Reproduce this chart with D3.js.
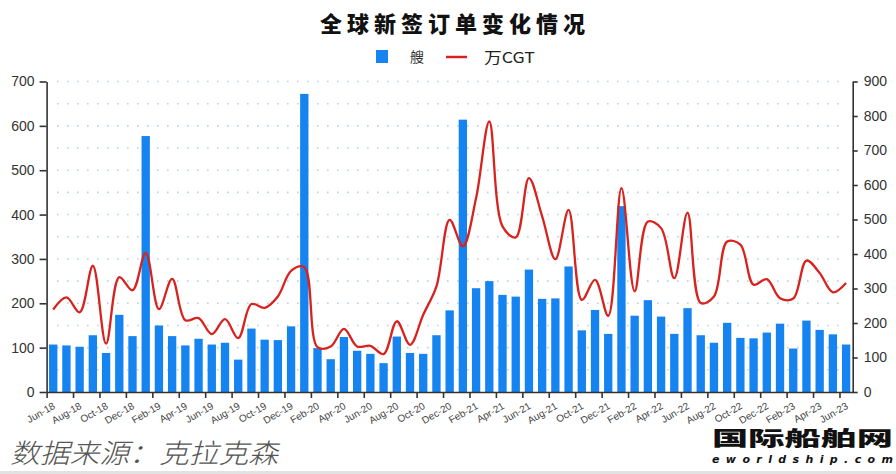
<!DOCTYPE html>
<html><head><meta charset="utf-8">
<script src="https://cdn.jsdelivr.net/npm/d3@7/dist/d3.min.js"></script>
<style>
html,body{margin:0;padding:0;background:#fff;}
svg{display:block;}
</style></head>
<body>
<svg id="chart" width="896" height="474"></svg>
<script>
const months = ["Jun-18","Jul-18","Aug-18","Sep-18","Oct-18","Nov-18","Dec-18","Jan-19","Feb-19","Mar-19","Apr-19","May-19","Jun-19","Jul-19","Aug-19","Sep-19","Oct-19","Nov-19","Dec-19","Jan-20","Feb-20","Mar-20","Apr-20","May-20","Jun-20","Jul-20","Aug-20","Sep-20","Oct-20","Nov-20","Dec-20","Jan-21","Feb-21","Mar-21","Apr-21","May-21","Jun-21","Jul-21","Aug-21","Sep-21","Oct-21","Nov-21","Dec-21","Jan-22","Feb-22","Mar-22","Apr-22","May-22","Jun-22","Jul-22","Aug-22","Sep-22","Oct-22","Nov-22","Dec-22","Jan-23","Feb-23","Mar-23","Apr-23","May-23","Jun-23"];
const ships = [107,105,102,128,88,174,126,577,150,126,105,120,107,111,73,143,118,117,148,672,99,74,124,93,86,65,125,88,86,128,184,614,234,250,219,215,276,210,211,283,139,185,131,419,172,207,170,131,189,128,111,156,122,121,134,154,98,161,140,130,107];
const cgt = [239,274,231,366,140,333,295,403,240,328,208,214,168,211,156,255,244,277,351,362,130,132,183,132,134,110,205,137,224,306,499,422,562,784,480,448,620,509,385,528,267,325,221,591,292,494,475,330,520,258,277,436,427,311,327,272,271,381,345,289,316];
const leftTicks = [0,100,200,300,400,500,600,700];
const rightTicks = [0,100,200,300,400,500,600,700,800,900];
const gridValues = d3.range(50, 701, 50);
const xTickIdx = d3.range(0, 61, 2);
const title = "全球新签订单变化情况";
const legendShip = "艘";
const legendCGT = "万CGT";
const source = "数据来源：克拉克森";

const svg = d3.select("#chart");
const L = 46.6, R = 852.7, T = 81.5, B = 392;

const x = d3.scaleBand().domain(months).range([L, R]).paddingInner(0.37).paddingOuter(0.185);
const xi = d3.scaleLinear().domain([0, months.length]).range([L, R]);
const yL = d3.scaleLinear().domain([0, 700]).range([B, T]);
const yR = d3.scaleLinear().domain([0, 900]).range([B, T]);

// grid
svg.append("g").selectAll("line").data(gridValues).join("line")
  .attr("x1", 57).attr("x2", 845)
  .attr("y1", d => yL(d)).attr("y2", d => yL(d))
  .attr("stroke", "#b9d3e4").attr("stroke-width", 1.6)
  .attr("stroke-dasharray", "1.6,8.4");

// bars
svg.append("g").selectAll("rect").data(ships).join("rect")
  .attr("x", (d, i) => x(months[i]))
  .attr("width", x.bandwidth())
  .attr("y", d => yL(d))
  .attr("height", d => B - yL(d))
  .attr("fill", "#1584f0");

// line
const line = d3.line()
  .x((d, i) => x(months[i]) + x.bandwidth() / 2)
  .y(d => yR(d))
  .curve(d3.curveCatmullRom.alpha(0.5));
svg.append("path").datum(cgt).attr("d", line)
  .attr("fill", "none").attr("stroke", "#d8221e").attr("stroke-width", 2.3);

// axes
const axisColor = "#333";
const gL = svg.append("g").attr("transform", `translate(${L},0)`)
  .call(d3.axisLeft(yL).tickValues(leftTicks).tickSize(7).tickPadding(5).tickSizeOuter(0));
const gR = svg.append("g").attr("transform", `translate(${R},0)`)
  .call(d3.axisRight(yR).tickValues(rightTicks).tickSize(5).tickPadding(6).tickSizeOuter(0));
[gL, gR].forEach(g => {
  g.select(".domain").attr("stroke", axisColor).attr("stroke-width", 1.6);
  g.selectAll(".tick line").attr("stroke", axisColor).attr("stroke-width", 1.6);
  g.selectAll(".tick text").attr("fill", "#333").attr("font-size", 14)
    .attr("font-family", "'Liberation Sans', Arial, sans-serif");
});

const gB = svg.append("g").attr("transform", `translate(0,${B})`)
  .call(d3.axisBottom(xi).tickValues(xTickIdx).tickFormat(i => months[i]).tickSize(6).tickSizeOuter(0));
gB.select(".domain").attr("stroke", axisColor).attr("stroke-width", 1.6);
gB.selectAll(".tick line").attr("stroke", axisColor).attr("stroke-width", 1.6);
gB.selectAll(".tick text")
  .attr("fill", "#444").attr("font-size", 10)
  .attr("font-family", "'Liberation Sans', Arial, sans-serif")
  .attr("text-anchor", "end")
  .attr("transform", "translate(7,13) rotate(-30)")
  .attr("dy", "0.35em").attr("y", 0).attr("x", 0);

// title
svg.append("text").attr("x", 455).attr("y", 32).attr("text-anchor", "middle")
  .attr("font-family", "'Noto Sans CJK SC', sans-serif").attr("font-weight", 900)
  .attr("font-size", 22).attr("letter-spacing", 5).attr("fill", "#111").text(title);

// legend
svg.append("rect").attr("x", 376).attr("y", 50).attr("width", 12).attr("height", 13).attr("fill", "#1584f0");
svg.append("text").attr("x", 410).attr("y", 62).attr("font-size", 14)
  .attr("font-family", "'Noto Sans CJK SC', sans-serif").attr("fill", "#333").text(legendShip);
svg.append("line").attr("x1", 446).attr("x2", 467).attr("y1", 57).attr("y2", 57)
  .attr("stroke", "#d8221e").attr("stroke-width", 2.5);
svg.append("text").attr("x", 484).attr("y", 63).attr("font-size", 15)
  .attr("font-family", "'Noto Sans CJK SC', sans-serif").attr("fill", "#222")
  .attr("textLength", 51).attr("lengthAdjust", "spacingAndGlyphs").text(legendCGT);

// source
svg.append("text").attr("x", 10).attr("y", 463)
  .attr("font-family", "'Noto Sans CJK SC', sans-serif").attr("font-weight", 300)
  .attr("font-style", "italic").attr("font-size", 27).attr("fill", "#555")
  .attr("textLength", 268).attr("lengthAdjust", "spacingAndGlyphs").text(source);

// watermark logo
svg.append("text").attr("x", 712).attr("y", 446)
  .attr("font-family", "'Noto Sans CJK SC', sans-serif").attr("font-weight", 900)
  .attr("font-size", 20).attr("fill", "#111")
  .attr("textLength", 181).attr("lengthAdjust", "spacingAndGlyphs").text("国际船舶网");
svg.append("text").attr("x", 712).attr("y", 463)
  .attr("font-family", "'DejaVu Sans', sans-serif").attr("font-weight", 700)
  .attr("font-style", "italic").attr("font-size", 11).attr("fill", "#111")
  .attr("textLength", 181).attr("lengthAdjust", "spacing").text("eworldship.com");

svg.append("rect").attr("x", 0).attr("y", 471).attr("width", 896).attr("height", 3).attr("fill", "#e2e2e2");
</script>
</body></html>
